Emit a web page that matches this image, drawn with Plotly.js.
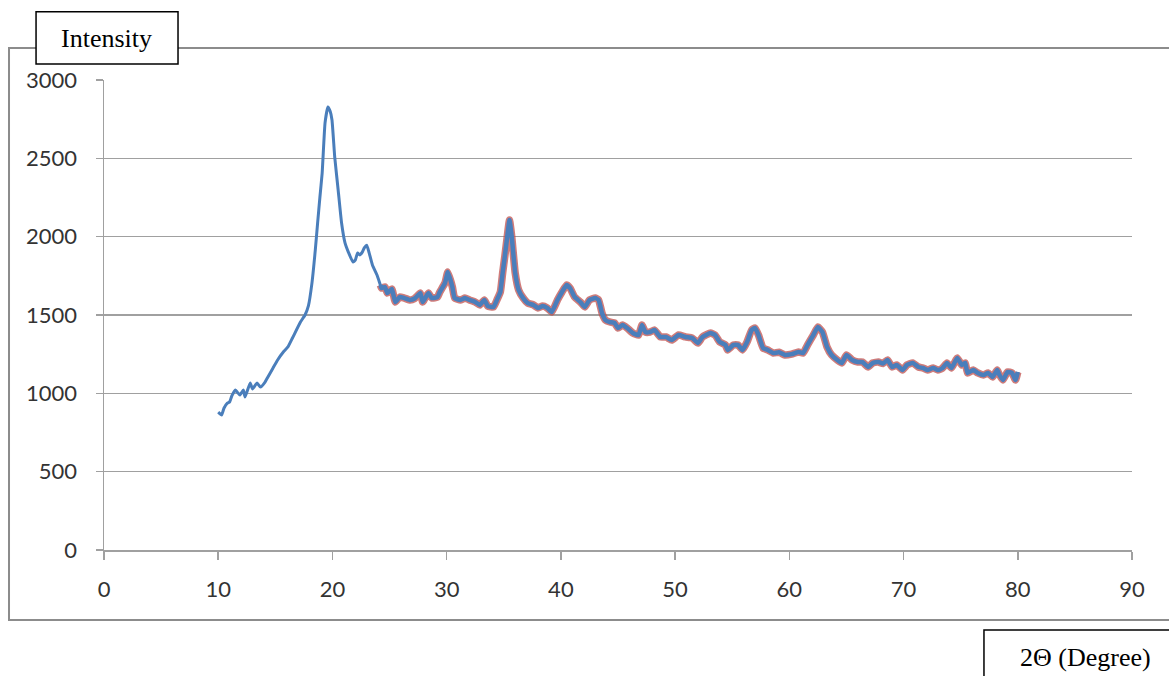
<!DOCTYPE html>
<html>
<head>
<meta charset="utf-8">
<script src="https://cdn.plot.ly/plotly-3.0.1.min.js"></script>
<style>
html,body{margin:0;padding:0;background:#fff;}
#chart{width:1169px;height:676px;}
</style>
</head>
<body>
<div id="chart"></div>
<script>
// 2-theta (degrees)
var twoTheta = [10.0,10.3,10.5,10.8,11.0,11.2,11.5,11.9,12.2,12.35,12.8,13.0,13.4,13.7,14.1,14.3,14.8,15.2,15.7,16.1,16.5,17.2,17.6,17.9,18.2,18.5,18.7,18.9,19.1,19.35,19.6,19.8,19.96,20.2,20.5,20.8,21.1,21.4,21.8,22.0,22.2,22.4,22.6,22.8,23.0,23.2,23.5,23.9,24.2,24.3,24.6,24.8,25.2,25.5,25.9,26.3,26.8,27.2,27.7,27.9,28.4,28.7,29.2,29.4,29.85,30.1,30.5,30.7,31.2,31.6,32.0,32.5,32.9,33.3,33.6,34.1,34.4,34.7,34.9,35.1,35.3,35.5,35.7,36.0,36.3,36.7,37.1,37.6,38.0,38.4,38.8,39.2,39.7,40.1,40.5,40.8,41.2,41.7,42.1,42.5,43.0,43.3,43.6,43.9,44.3,44.7,45.0,45.4,45.8,46.3,46.8,47.1,47.4,47.8,48.2,48.7,49.2,49.7,50.3,50.9,51.5,52.0,52.4,53.1,53.5,53.9,54.4,54.6,55.1,55.5,55.9,56.3,56.7,57.0,57.3,57.7,58.1,58.6,59.1,59.6,60.2,60.8,61.2,61.6,62.1,62.5,62.9,63.3,63.7,64.2,64.6,65.0,65.5,66.0,66.4,66.9,67.3,67.8,68.2,68.6,69.0,69.4,69.9,70.3,70.8,71.3,71.7,72.1,72.6,73.0,73.4,73.8,74.2,74.7,75.1,75.4,75.6,76.1,76.5,77.0,77.4,77.8,78.2,78.4,78.7,79.1,79.5,79.8,80.0];
// Intensity
var intensity = [880,862,905,938,945,985,1021,989,1021,977,1066,1028,1066,1040,1072,1098,1162,1213,1264,1296,1353,1455,1500,1560,1700,1915,2087,2250,2406,2725,2828,2800,2745,2508,2298,2087,1960,1900,1838,1850,1896,1883,1900,1930,1945,1900,1819,1755,1691,1672,1679,1640,1666,1583,1615,1608,1596,1605,1640,1583,1640,1608,1615,1647,1704,1774,1679,1608,1596,1608,1596,1583,1564,1596,1557,1551,1596,1647,1768,1880,1998,2106,1998,1768,1660,1608,1576,1564,1545,1557,1545,1519,1596,1647,1691,1672,1615,1583,1551,1596,1608,1596,1513,1468,1455,1449,1417,1436,1417,1385,1372,1436,1391,1391,1404,1360,1360,1340,1372,1360,1353,1321,1360,1385,1372,1328,1309,1277,1309,1309,1277,1328,1404,1417,1372,1289,1277,1257,1262,1245,1250,1264,1257,1309,1372,1423,1391,1296,1245,1213,1194,1245,1213,1200,1200,1168,1194,1200,1190,1213,1168,1181,1149,1181,1194,1168,1162,1149,1162,1149,1160,1194,1162,1226,1181,1194,1130,1149,1130,1117,1130,1104,1149,1117,1085,1136,1130,1085,1136];
var xTicks = [0,10,20,30,40,50,60,70,80,90];
var yTicks = [0,500,1000,1500,2000,2500,3000];
var outlineStart = 24.2;

var xs2 = [], ys2 = [];
for (var i = 0; i < twoTheta.length; i++) {
  if (twoTheta[i] >= outlineStart) { xs2.push(twoTheta[i]); ys2.push(intensity[i]); }
}

var traces = [
  {x: xs2, y: ys2, mode: 'lines', line: {color: 'rgba(192,80,77,0.75)', width: 7.5, shape: 'spline', smoothing: 0.4}, hoverinfo: 'skip'},
  {x: twoTheta, y: intensity, mode: 'lines', line: {color: '#4a7ebb', width: 3, shape: 'spline', smoothing: 0.4}},
  {x: xs2, y: ys2, mode: 'lines', line: {color: '#4a7ebb', width: 4.5, shape: 'spline', smoothing: 0.4}, hoverinfo: 'skip'}
];

var tickFont = {family: 'Lato, "Open Sans", sans-serif', size: 22, color: '#333333'};
var serif = '"Liberation Serif", "Times New Roman", serif';

var layout = {
  width: 1169, height: 676,
  margin: {l: 104, r: 37, t: 80, b: 126},
  paper_bgcolor: '#ffffff', plot_bgcolor: '#ffffff',
  showlegend: false,
  xaxis: {
    range: [0, 90], tickvals: xTicks, ticktext: xTicks.map(String),
    showgrid: false, zeroline: false, showline: true, linecolor: '#a0a0a0', linewidth: 1.5,
    ticks: 'outside', ticklen: 8, tickcolor: '#a0a0a0', tickwidth: 1.5,
    tickfont: tickFont, ticklabelstandoff: 11
  },
  yaxis: {
    range: [0, 3000], tickvals: yTicks, ticktext: yTicks.map(String),
    showgrid: true, gridcolor: '#a0a0a0', gridwidth: 1.5,
    zeroline: false, showline: true, linecolor: '#a0a0a0', linewidth: 1.5,
    ticks: 'outside', ticklen: 7, tickcolor: '#a0a0a0', tickwidth: 1.5,
    tickfont: tickFont, ticklabelstandoff: 14
  },
  shapes: [
    {type: 'rect', xref: 'paper', yref: 'paper', x0: -0.0924, x1: 1.06, y0: -0.149, y1: 1.068,
     line: {color: '#8c8c8c', width: 2}, fillcolor: 'rgba(0,0,0,0)'},
    {type: 'rect', xref: 'paper', yref: 'paper', x0: -0.0661, x1: 0.072, y0: 1.034, y1: 1.145,
     line: {color: '#000000', width: 1.5}, fillcolor: '#ffffff'},
    {type: 'rect', xref: 'paper', yref: 'paper', x0: 0.856, x1: 1.1, y0: -0.3, y1: -0.170,
     line: {color: '#000000', width: 1.5}, fillcolor: '#ffffff'}
  ],
  annotations: [
    {text: 'Intensity', xref: 'paper', yref: 'paper', x: 0.0029, y: 1.089, showarrow: false,
     xanchor: 'center', yanchor: 'middle', font: {family: serif, size: 26, color: '#000'}},
    {text: '2Θ (Degree)', xref: 'paper', yref: 'paper', x: 0.955, y: -0.2277, showarrow: false,
     xanchor: 'center', yanchor: 'middle', font: {family: serif, size: 26, color: '#000'}}
  ]
};

Plotly.newPlot('chart', traces, layout, {displayModeBar: false, staticPlot: true});
</script>
</body>
</html>
